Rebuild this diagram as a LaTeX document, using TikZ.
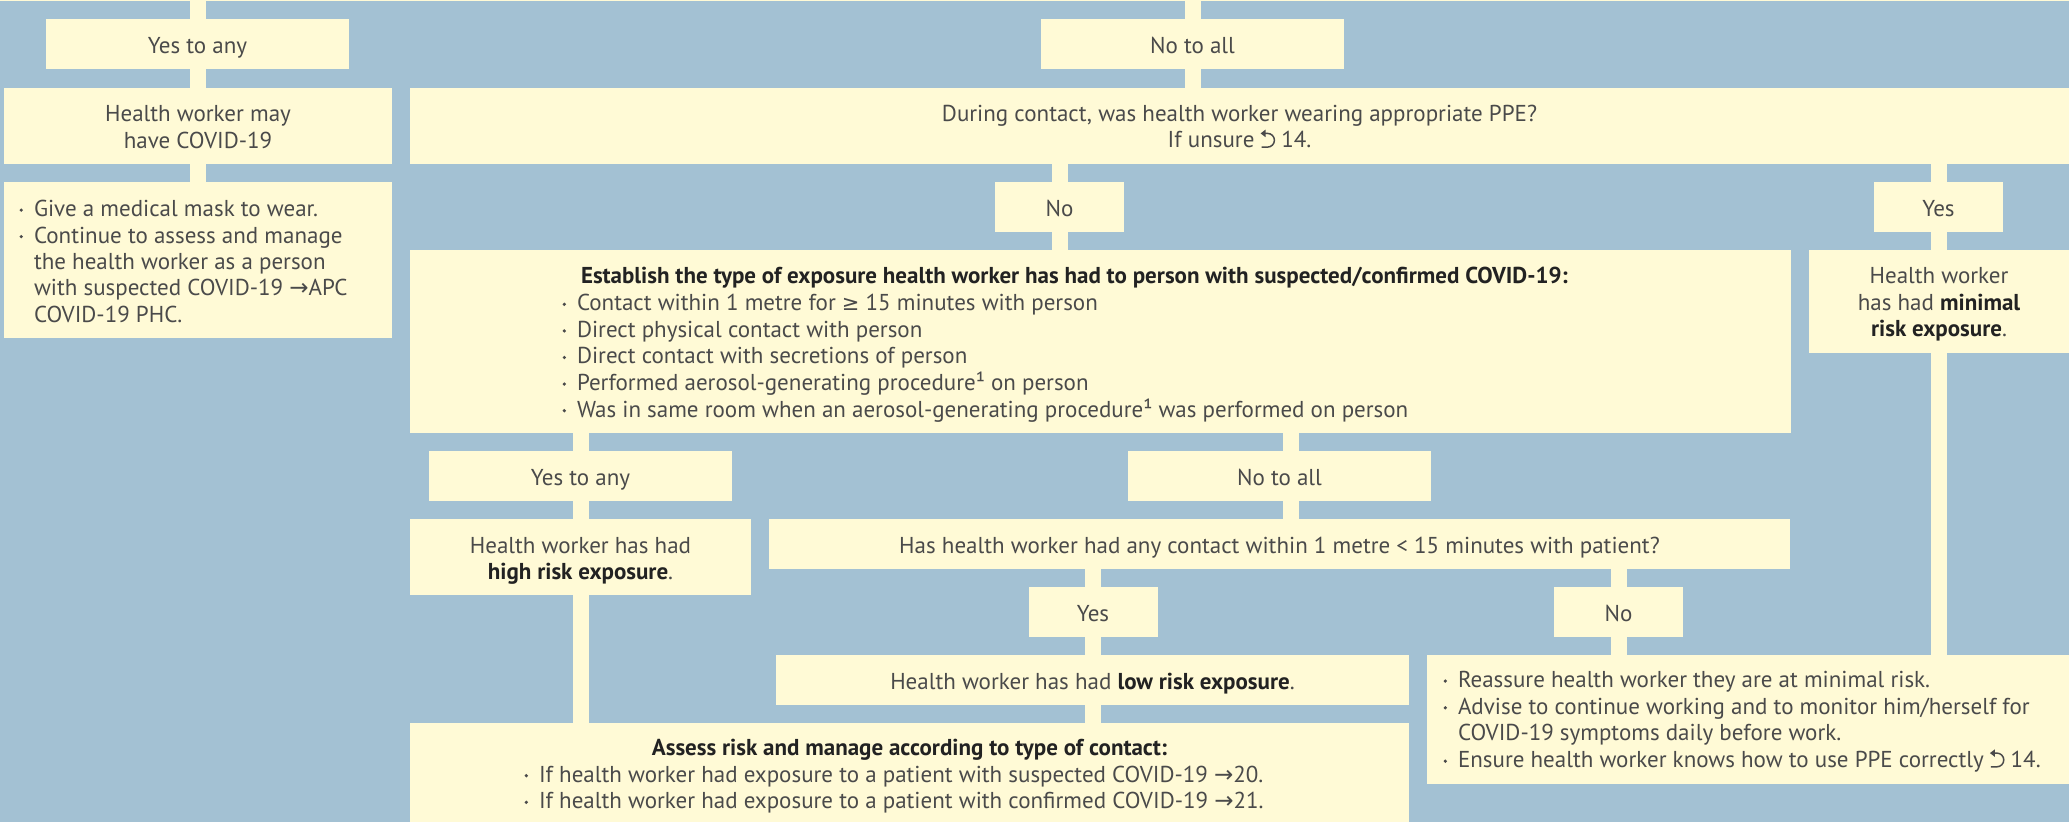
\documentclass[tikz,border=0pt]{standalone}
\usepackage{fontspec}
\setmainfont{PT Sans}
\newfontfamily\symf{DejaVu Sans}
\usetikzlibrary{backgrounds}
\definecolor{bg}{RGB}{163,193,211}
\definecolor{cream}{RGB}{255,250,214}
\definecolor{ink}{RGB}{74,74,74}
\definecolor{inkb}{RGB}{34,34,34}
\newcommand\fs{\fontsize{23pt}{26.6pt}\selectfont}
\newcommand\bfx[1]{{\bfseries\color{inkb}#1}}
\newcommand\rarr{{\symf →}}
\newcommand\gesym{{\symf\fontsize{21pt}{26.6pt}\selectfont ≥}}
\newcommand\bul{\llap{\raisebox{4.6pt}{\tikz[x=1pt,y=1pt]\fill[ink] (0,0) circle (1.8pt);}\hspace{10.9pt}}}
\newcommand\retsym{\tikz[baseline=0pt,x=1pt,y=1pt]{\draw[ink,line width=1.5pt] (3.5,14.5) -- (7,14.5) arc[start angle=90,end angle=-90,radius=6.85] -- (1,0.8); \fill[ink] (0,14.5) -- (5,18.3) -- (5,10.7) -- cycle;}}
\tikzset{
  box/.style={fill=cream, draw=none, inner sep=0pt, outer sep=0pt},
  lab/.style={box, font=\fs, text=ink, text height=18.8pt, text depth=0pt},
  txt/.style={inner sep=0pt, outer sep=0pt, font=\fs, text=ink},
  conn/.style={draw=cream, line width=16pt},
}
\begin{document}
\begin{tikzpicture}[x=1pt,y=-1pt]
\useasboundingbox (0,0) rectangle (2069,822);
\begin{scope}[on background layer]
  \fill[bg] (0,0) rectangle (2069,822);
\end{scope}
\fill[cream] (0,0) rectangle (2069,1.3);

% boxes
\node[lab, minimum width=303pt, minimum height=50pt] (yesanyA) at (197.5,44) {Yes to any};
\node[box, minimum width=388pt, minimum height=76pt] (maycovid) at (198,126) {};
\node[box, minimum width=388pt, minimum height=156pt] (mask) at (198,260) {};
\node[lab, minimum width=303pt, minimum height=50pt] (noallA) at (1192.5,44) {No to all};
\node[box, minimum width=1659pt, minimum height=76pt] (ppe) at (1239.5,126) {};
\node[lab, minimum width=129pt, minimum height=50pt] (noA) at (1059.5,207) {No};
\node[lab, minimum width=129pt, minimum height=50pt] (yesA) at (1938.5,207) {Yes};
\node[box, minimum width=1381pt, minimum height=183pt] (establish) at (1100.5,341.5) {};
\node[box, minimum width=260pt, minimum height=103pt] (minimal) at (1939,301.5) {};
\node[lab, minimum width=303pt, minimum height=50pt] (yesanyB) at (580.5,476) {Yes to any};
\node[lab, minimum width=303pt, minimum height=50pt] (noallB) at (1279.5,476) {No to all};
\node[box, minimum width=341pt, minimum height=76pt] (high) at (580.5,557) {};
\node[lab, minimum width=1021pt, minimum height=50pt] (contact) at (1279.5,544) {Has health worker had any contact within 1 metre < 15 minutes with patient?};
\node[lab, minimum width=129pt, minimum height=50pt] (yesB) at (1093,612) {Yes};
\node[lab, minimum width=129pt, minimum height=50pt] (noB) at (1618.5,612) {No};
\node[lab, minimum width=633pt, minimum height=50pt] (low) at (1092.5,680) {Health worker has had \bfx{low risk exposure}.};
\node[box, minimum width=642pt, minimum height=129pt] (reassure) at (1748,719.5) {};
\node[box, minimum width=999pt, minimum height=99pt] (assess) at (909.5,772.5) {};

% texts
\node[txt, anchor=base] (mc1) at (198,121.5) {Health worker may};
\node[txt, anchor=base] (mc2) at (198,148.1) {have COVID-19};

\node[txt, anchor=base west] (mk1) at (34,216.5) {\bul Give a medical mask to wear.};
\node[txt, anchor=base west] (mk2) at (34,243.0) {\bul Continue to assess and manage};
\node[txt, anchor=base west] (mk3) at (34,269.4) {the health worker as a person};
\node[txt, anchor=base west] (mk4) at (34,295.9) {with suspected COVID-19 \rarr APC};
\node[txt, anchor=base west] (mk5) at (34,322.3) {COVID-19 PHC.};

\node[txt, anchor=base] (pp1) at (1239.5,121.3) {During contact, was health worker wearing appropriate PPE?};
\node[txt, anchor=base] (pp2) at (1239.5,147.9) {If unsure \retsym\ 14.};

\node[txt, anchor=base west] (es0) at (581,283.3) {\bfx{Establish the type of exposure health worker has had to person with suspected/confirmed COVID-19:}};
\node[txt, anchor=base west] (es1) at (577,310.7) {\bul Contact within 1 metre for \gesym\ 15 minutes with person};
\node[txt, anchor=base west] (es2) at (577,337.3) {\bul Direct physical contact with person};
\node[txt, anchor=base west] (es3) at (577,363.9) {\bul Direct contact with secretions of person};
\node[txt, anchor=base west] (es4) at (577,390.5) {\bul Performed aerosol-generating procedure¹ on person};
\node[txt, anchor=base west] (es5) at (577,417.1) {\bul Was in same room when an aerosol-generating procedure¹ was performed on person};

\node[txt, anchor=base] (mr1) at (1939,283.3) {Health worker};
\node[txt, anchor=base] (mr2) at (1939,310.0) {has had \bfx{minimal}};
\node[txt, anchor=base] (mr3) at (1939,336.6) {\bfx{risk exposure}.};

\node[txt, anchor=base] (hr1) at (580.5,553.3) {Health worker has had};
\node[txt, anchor=base] (hr2) at (580.5,579.9) {\bfx{high risk exposure}.};

\node[txt, anchor=base] (as0) at (909.5,755.5) {\bfx{Assess risk and manage according to type of contact:}};
\node[txt, anchor=base west] (as1) at (539,782.1) {\bul If health worker had exposure to a patient with suspected COVID-19 \rarr20.};
\node[txt, anchor=base west] (as2) at (539,808.7) {\bul If health worker had exposure to a patient with confirmed COVID-19 \rarr21.};

\node[txt, anchor=base west] (re1) at (1458,687.5) {\bul Reassure health worker they are at minimal risk.};
\node[txt, anchor=base west] (re2) at (1458,714.2) {\bul Advise to continue working and to monitor him/herself for};
\node[txt, anchor=base west] (re3) at (1458,740.9) {COVID-19 symptoms daily before work.};
\node[txt, anchor=base west] (re4) at (1458,767.6) {\bul Ensure health worker knows how to use PPE correctly \retsym\ 14.};

% connectors
\coordinate (topL) at (198,0);
\coordinate (topM) at (1193,0);
\coordinate (cx) at (1291,0);
\begin{scope}[on background layer]
\draw[conn] (topL) -- (topL |- yesanyA.north);
\draw[conn] (yesanyA.south -| topL) -- (maycovid.north -| topL);
\draw[conn] (maycovid.south -| topL) -- (mask.north -| topL);
\draw[conn] (topM) -- (topM |- noallA.north);
\draw[conn] (noallA.south -| topM) -- (ppe.north -| topM);
\draw[conn] (ppe.south -| noA) -- (noA.north);
\draw[conn] (noA.south) -- (establish.north -| noA);
\draw[conn] (ppe.south -| yesA) -- (yesA.north);
\draw[conn] (yesA.south) -- (minimal.north -| yesA);
\draw[conn] (minimal.south -| yesA) -- (reassure.north -| yesA);
\draw[conn] (establish.south -| yesanyB) -- (yesanyB.north);
\draw[conn] (yesanyB.south) -- (high.north);
\draw[conn] (high.south) -- (assess.north -| high);
\draw[conn] (establish.south -| cx) -- (noallB.north -| cx);
\draw[conn] (noallB.south -| cx) -- (contact.north -| cx);
\draw[conn] (contact.south -| yesB) -- (yesB.north);
\draw[conn] (yesB.south) -- (low.north -| yesB);
\draw[conn] (low.south -| yesB) -- (assess.north -| yesB);
\draw[conn] (contact.south -| noB) -- (noB.north);
\draw[conn] (noB.south) -- (reassure.north -| noB);
\end{scope}
\end{tikzpicture}
\end{document}
